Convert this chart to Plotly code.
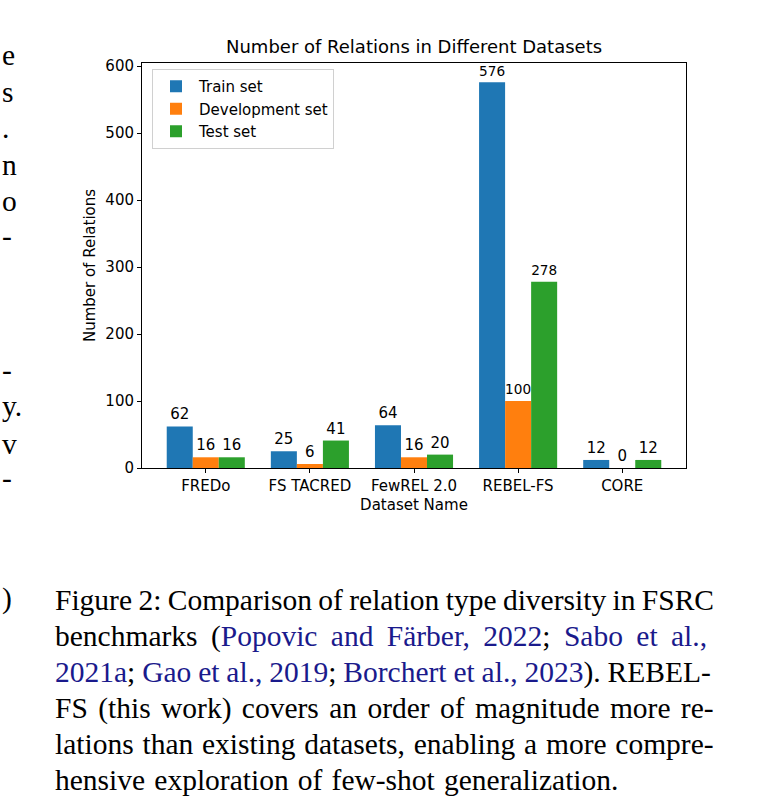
import plotly.graph_objects as go

# ---- data ----
datasets = ["FREDo", "FS TACRED", "FewREL 2.0", "REBEL-FS", "CORE"]
train_counts = [62, 25, 64, 576, 12]
dev_counts = [16, 6, 16, 100, 0]
test_counts = [16, 41, 20, 278, 12]
series_names = ["Train set", "Development set", "Test set"]
series_colors = ["#1f77b4", "#ff7f0e", "#2ca02c"]
y_ticks = [0, 100, 200, 300, 400, 500, 600]

CITE = "<span style='color:#1a1a8c'>{}</span>"
caption_lines = [
    "Figure 2: Comparison of relation type diversity in FSRC",
    "benchmarks (" + CITE.format("Popovic and Färber, 2022") + "; " + CITE.format("Sabo et al.,"),
    CITE.format("2021a") + "; " + CITE.format("Gao et al., 2019") + "; " + CITE.format("Borchert et al., 2023") + "). REBEL-",
    "FS (this work) covers an order of magnitude more re-",
    "lations than existing datasets, enabling a more compre-",
    "hensive exploration of few-shot generalization.",
]
caption_word_spacing = [-1.0, 6.0, -0.5, 3.0, 1.4, 1.8]
side_fragments = [("e", 55), ("s", 92), (".", 128), ("n", 165), ("o", 201), ("-", 236),
                  ("-", 370), ("y.", 406), ("v", 444), ("-", 478), (")", 598)]

W, H = 770, 798
fig = go.Figure()
for name, vals, col in zip(series_names, [train_counts, dev_counts, test_counts], series_colors):
    fig.add_trace(go.Bar(
        x=datasets, y=vals, name=name, marker=dict(color=col, line=dict(width=0)),
        text=[str(v) for v in vals], textposition="outside",
        textfont=dict(family="DejaVu Sans", size=15, color="black"),
        cliponaxis=False,
    ))

x0, x1 = 142, 686
yb, yt = 468, 63
fig.update_layout(
    width=W, height=H, margin=dict(l=0, r=0, t=0, b=0),
    paper_bgcolor="white", plot_bgcolor="white",
    barmode="group", bargap=0.25, bargroupgap=0,
    font=dict(family="DejaVu Sans", size=15, color="black"),
    showlegend=True,
    legend=dict(x=152 / W, y=1 - 69 / H, xanchor="left", yanchor="top",
                bgcolor="white", bordercolor="#d0d0d0", borderwidth=1,
                font=dict(family="DejaVu Sans", size=15, color="black"),
                itemwidth=36, tracegroupgap=0),
    xaxis=dict(domain=[x0 / W, x1 / W], range=[-0.6125, 4.6125], automargin=False,
               showline=True, linecolor="black", linewidth=1, mirror=True,
               ticks="outside", ticklen=4, tickcolor="black", showgrid=False,
               tickfont=dict(size=15),
               title=dict(text="Dataset Name", font=dict(size=15), standoff=5)),
    yaxis=dict(domain=[1 - yb / H, 1 - yt / H], range=[0, 604.8], automargin=False,
               tickvals=y_ticks, showline=True, linecolor="black", linewidth=1, mirror=True,
               ticks="outside", ticklen=4, tickcolor="black", showgrid=False, zeroline=False,
               tickfont=dict(size=15),
               title=dict(text="Number of Relations", font=dict(size=15), standoff=6)),
)

fig.add_annotation(text="Number of Relations in Different Datasets", xref="paper", yref="paper",
                   x=(x0 + x1) / 2 / W, y=1 - 46 / H, xanchor="center", yanchor="middle",
                   showarrow=False, font=dict(family="DejaVu Sans", size=18, color="black"))

cap_y = [600, 636, 672, 708, 744, 780]
for line, yy, ws in zip(caption_lines, cap_y, caption_word_spacing):
    fig.add_annotation(text=f"<span style='word-spacing:{ws}px'>{line}</span>",
                       xref="paper", yref="paper", x=53 / W, y=1 - yy / H,
                       xanchor="left", yanchor="middle", showarrow=False, align="left",
                       font=dict(family="Liberation Serif", size=29.5, color="black"))

for ch, yy in side_fragments:
    fig.add_annotation(text=ch, xref="paper", yref="paper", x=0, y=1 - yy / H,
                       xanchor="left", yanchor="middle", showarrow=False,
                       font=dict(family="Liberation Serif", size=29.5, color="black"))

fig.write_html("out.html", config={"displayModeBar": False},
               post_script="document.body.style.margin='0';document.body.style.overflow='hidden';")
